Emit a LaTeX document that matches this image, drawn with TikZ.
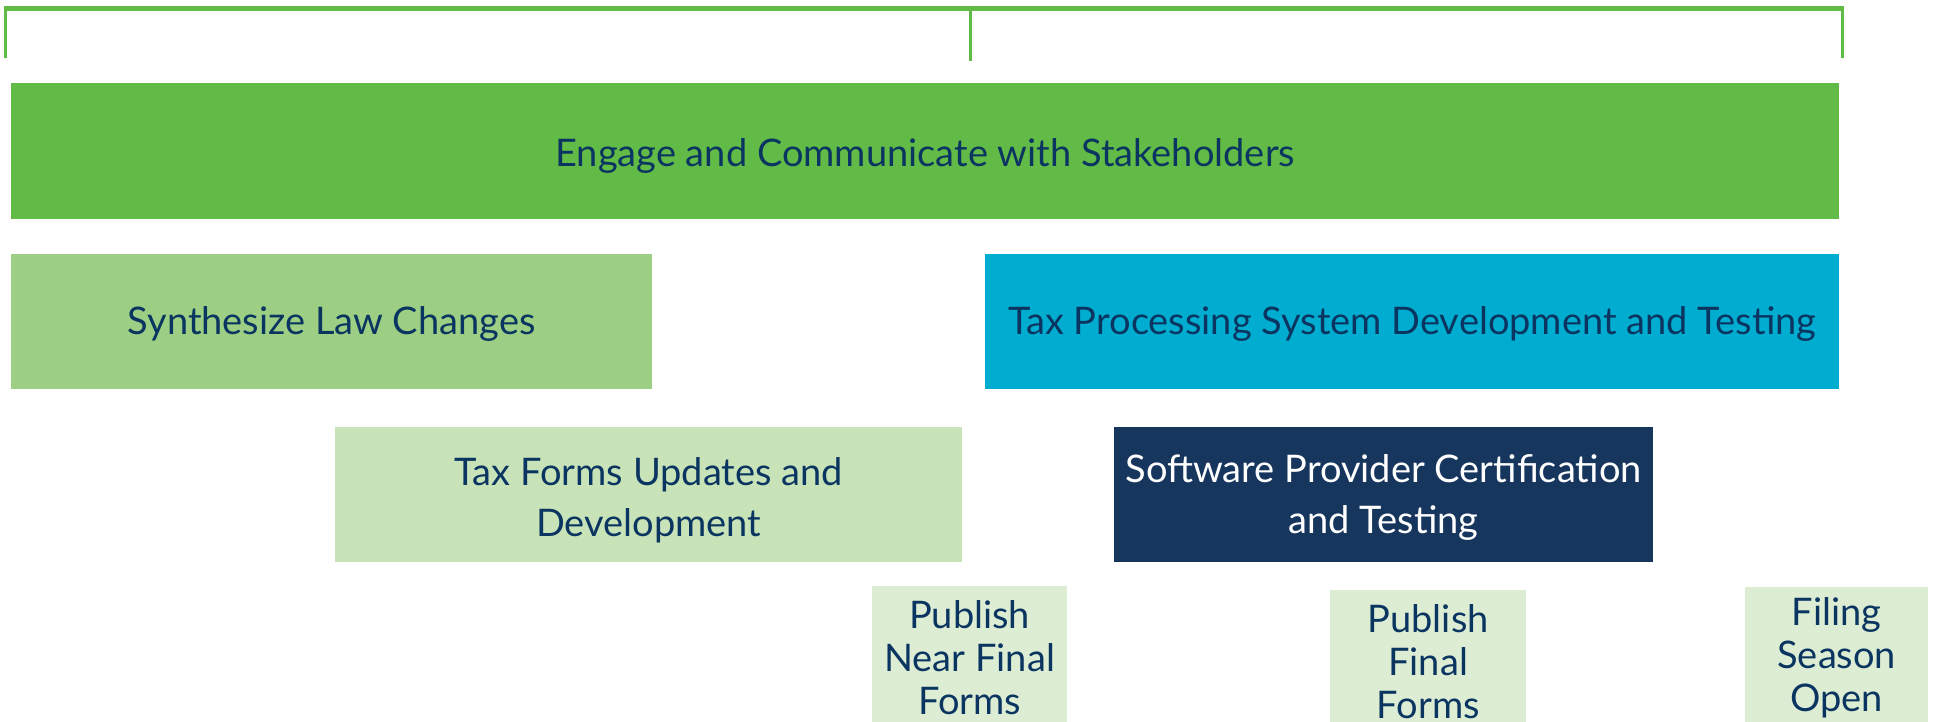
\documentclass[tikz,border=0pt]{standalone}
\usepackage{fontspec}
\setmainfont{Lato}
\definecolor{engagegreen}{HTML}{62BB46}
\definecolor{synthgreen}{HTML}{9CCF84}
\definecolor{formsgreen}{HTML}{C9E3B9}
\definecolor{pubgreen}{HTML}{DDEDD4}
\definecolor{taxblue}{HTML}{00ADD0}
\definecolor{softnavy}{HTML}{17365E}
\definecolor{textnavy}{HTML}{0B3561}
\begin{document}
\begin{tikzpicture}[x=1pt,y=-1pt,
  box/.style={draw=none, inner sep=0pt, anchor=north west, align=center,
    font=\fontsize{38}{51}\selectfont, text=textnavy},
  pubbox/.style={box, fill=pubgreen, minimum width=#1, minimum height=142pt,
    font=\fontsize{38}{43}\selectfont},
  bracket/.style={draw=engagegreen, line width=3pt}
]
\useasboundingbox (0,0) rectangle (1937,722);
% top bracket
\coordinate (bl) at (5.5,8.5);
\coordinate (bm) at (970,8.5);
\coordinate (br) at (1842.5,8.5);
\coordinate (blb) at (5.5,58);
\coordinate (bmb) at (970,61);
\coordinate (brb) at (1842.5,58);
\draw[draw=engagegreen, line width=5.5pt] ([xshift=-1.5pt]bl) -- ([xshift=1.5pt]br);
\draw[bracket] (bl) -- (blb);
\draw[bracket] (bm) -- (bmb);
\draw[bracket] (br) -- (brb);
% boxes
\node[box, fill=engagegreen, text height=38pt, minimum width=1828pt, minimum height=136pt] (engage) at (11,83)
  {Engage and Communicate with Stakeholders};
\node[box, fill=synthgreen, text height=33pt, minimum width=641pt, minimum height=135pt] (synth) at (11,254)
  {Synthesize Law Changes};
\node[box, fill=taxblue, text height=33pt, minimum width=854pt, minimum height=135pt] (tps) at (985,254)
  {Tax Processing System Development and Testing};
\node[box, fill=formsgreen, text height=91pt, minimum width=627pt, minimum height=135pt] (forms) at (335,427)
  {Tax Forms Updates and\\Development};
\node[box, fill=softnavy, text=white, text height=85pt, minimum width=539pt, minimum height=135pt] (soft) at (1114,427)
  {Software Provider Certification\\and Testing};
\node[pubbox=195pt] (near) at (872,586) {Publish\\Near Final\\Forms};
\node[pubbox=196pt] (final) at (1330,590) {Publish\\Final\\Forms};
\node[pubbox=183pt] (open) at (1745,587) {Filing\\Season\\Open};
\end{tikzpicture}
\end{document}
